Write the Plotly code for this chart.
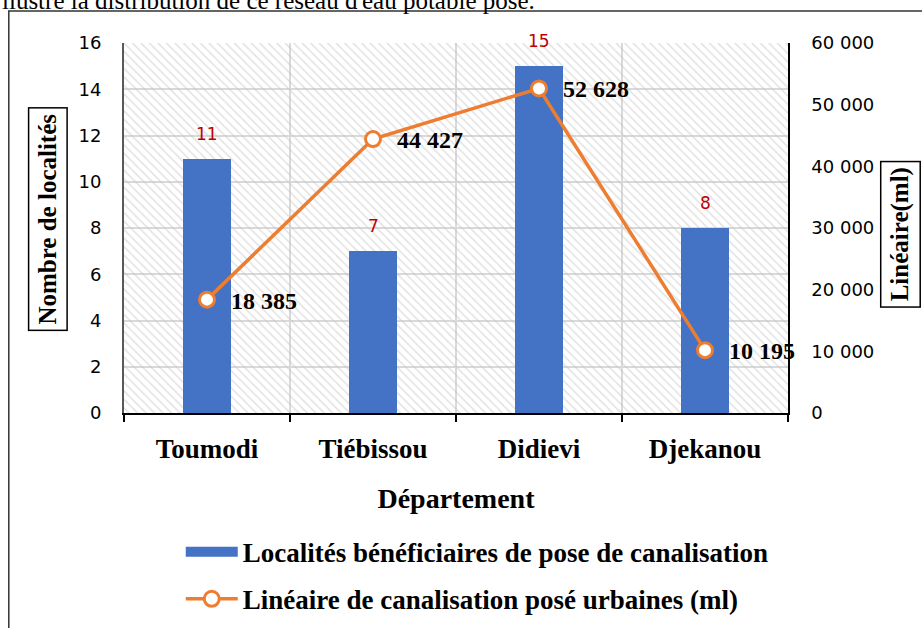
import plotly.graph_objects as go

# Données
departements = ["Toumodi", "Tiébissou", "Didievi", "Djekanou"]
localites = [11, 7, 15, 8]
lineaire_ml = [18385, 44427, 52628, 10195]

y1_max = 16
y2_max = 60000

nom_barres = "Localités bénéficiaires de pose de canalisation"
nom_ligne = "Linéaire de canalisation posé urbaines (ml)"

serif = "Liberation Serif"
sans = "DejaVu Sans"
bleu = "#4472c4"
orange = "#ed7d31"

fig = go.Figure()

# fond hachuré de la zone de tracé
fig.add_trace(go.Bar(
    x=departements, y=[y1_max] * len(departements), width=1,
    marker=dict(color="rgba(0,0,0,0)", line_width=0,
                pattern=dict(shape="\\", fgcolor="#c4c4c4", bgcolor="rgba(0,0,0,0)",
                             size=6, solidity=0.25)),
    showlegend=False, hoverinfo="skip",
))

fig.add_trace(go.Bar(
    x=departements, y=localites, width=0.29, name=nom_barres,
    marker=dict(color=bleu, line_width=0),
    showlegend=False,
))

fig.add_trace(go.Scatter(
    x=departements, y=lineaire_ml, yaxis="y2", mode="lines+markers", name=nom_ligne,
    line=dict(color=orange, width=3.5),
    marker=dict(symbol="circle", size=15, color="white", line=dict(color=orange, width=3)),
    legendgroup="b", legendrank=2,
))

# entrée de légende des barres (rectangle large comme dans Excel)
fig.add_trace(go.Scatter(
    x=[None], y=[None], mode="lines", name=nom_barres,
    line=dict(color=bleu, width=14), legendgroup="a", legendrank=1,
))

annotations = []
for d, v in zip(departements, localites):
    annotations.append(dict(x=d, y=v, xref="x", yref="y", text=str(v), showarrow=False,
                            yshift=25, font=dict(family=sans, size=17, color="#c00000")))
for d, v in zip(departements, lineaire_ml):
    annotations.append(dict(x=d, y=v, xref="x", yref="y2", text=f"{v:,}".replace(",", " "),
                            showarrow=False, xanchor="left", xshift=22, yshift=-1,
                            font=dict(family=serif, size=24, color="black", weight="bold")))

# titres d'axes encadrés
annotations.append(dict(x=-0.1145, y=0.524, xref="paper", yref="paper", text="Nombre de localités",
                        xanchor="center", yanchor="middle",
                        textangle=-90, showarrow=False, bordercolor="black", borderwidth=1.5,
                        borderpad=5, font=dict(family=serif, size=25, color="black", weight="bold")))
annotations.append(dict(x=1.170, y=0.484, xref="paper", yref="paper", text="Linéaire(ml)",
                        xanchor="center", yanchor="middle",
                        textangle=-90, showarrow=False, bordercolor="black", borderwidth=1.5,
                        borderpad=5, font=dict(family=serif, size=25, color="black", weight="bold")))

# texte du document coupé en haut
annotations.append(dict(x=-0.187, y=1.073, xref="paper", yref="paper", xanchor="left",
                        yanchor="bottom", showarrow=False,
                        text="llustre la distribution de ce réseau d'eau potable posé.",
                        font=dict(family=serif, size=25, color="black")))

fig.update_layout(
    width=922, height=628,
    margin=dict(l=124, r=134, t=43, b=215, autoexpand=False),
    paper_bgcolor="white", plot_bgcolor="white",
    barmode="overlay", bargap=0,
    separators=", ",
    showlegend=True,
    legend=dict(x=0.532, xanchor="center", y=-0.31, yanchor="top",
                orientation="v", traceorder="grouped", tracegroupgap=9,
                itemwidth=52, bgcolor="rgba(0,0,0,0)",
                font=dict(family=serif, size=27, color="black", weight="bold")),
    xaxis=dict(
        type="category", tickson="boundaries", showgrid=True, gridcolor="#d9d9d9", gridwidth=2,
        showline=True, linecolor="black", linewidth=1.5, ticks="outside", ticklen=7,
        tickcolor="black", tickwidth=1.5, ticklabelstandoff=11,
        tickfont=dict(family=serif, size=27, color="black", weight="bold"),
        title=dict(text="Département", standoff=25,
                   font=dict(family=serif, size=28, color="black", weight="bold")),
        range=[-0.5, 3.5],
    ),
    yaxis=dict(
        range=[0, y1_max], dtick=2, showgrid=True, gridcolor="#d9d9d9", gridwidth=2,
        showline=True, linecolor="#595959", linewidth=2, zeroline=False,
        ticks="", ticklabelstandoff=17,
        tickfont=dict(family=sans, size=18, color="black"),
    ),
    yaxis2=dict(
        overlaying="y", side="right", range=[0, y2_max], dtick=10000, tickformat=",",
        showgrid=False, showline=True, linecolor="black", linewidth=1.5, zeroline=False,
        ticks="", ticklabelstandoff=18,
        tickfont=dict(family=sans, size=18, color="black"),
    ),
    annotations=annotations,
    shapes=[dict(type="rect", xref="paper", yref="paper", x0=-0.1735, y0=-0.62,
                 x1=1.22, y1=1.0865, line=dict(color="#333333", width=1.5), layer="below")],
)

# la page n'a pas de marge autour du graphique
fig.write_html("out.html", config=dict(displayModeBar=False),
               post_script="document.body.style.margin='0';")
